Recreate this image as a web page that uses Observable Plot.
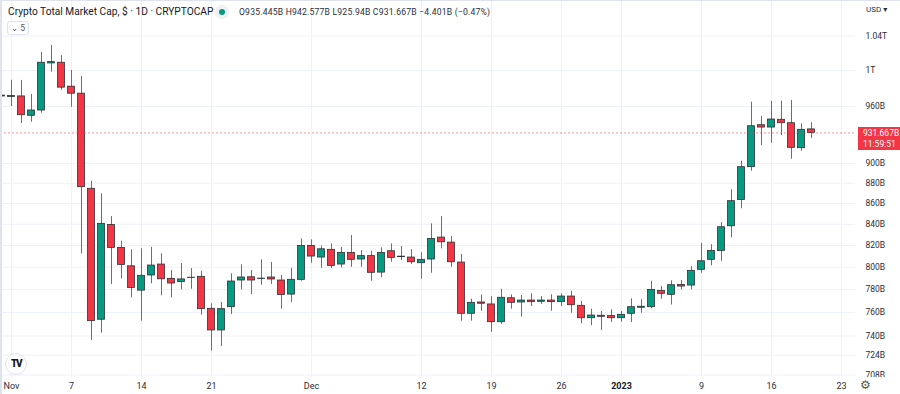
<!DOCTYPE html>
<html><head><meta charset="utf-8">
<script src="https://cdn.jsdelivr.net/npm/d3@7"></script>
<script src="https://cdn.jsdelivr.net/npm/@observablehq/plot@0.6"></script>
<style>
body{margin:0;background:#fff;font-family:Roboto,"DejaVu Sans",sans-serif;}
#wrap{position:relative;width:900px;height:394px;overflow:hidden;background:#fff;}
#wrap svg{position:absolute;left:0;top:0;}
.ov{position:absolute;white-space:nowrap;}
</style></head><body><div id="wrap"></div>
<script>
const dates = ["2022-10-31",
"2022-11-01","2022-11-02","2022-11-03","2022-11-04","2022-11-05","2022-11-06","2022-11-07","2022-11-08","2022-11-09","2022-11-10",
"2022-11-11","2022-11-12","2022-11-13","2022-11-14","2022-11-15","2022-11-16","2022-11-17","2022-11-18","2022-11-19","2022-11-20",
"2022-11-21","2022-11-22","2022-11-23","2022-11-24","2022-11-25","2022-11-26","2022-11-27","2022-11-28","2022-11-29","2022-11-30",
"2022-12-01","2022-12-02","2022-12-03","2022-12-04","2022-12-05","2022-12-06","2022-12-07","2022-12-08","2022-12-09","2022-12-10",
"2022-12-11","2022-12-12","2022-12-13","2022-12-14","2022-12-15","2022-12-16","2022-12-17","2022-12-18","2022-12-19","2022-12-20",
"2022-12-21","2022-12-22","2022-12-23","2022-12-24","2022-12-25","2022-12-26","2022-12-27","2022-12-28","2022-12-29","2022-12-30","2022-12-31",
"2023-01-01","2023-01-02","2023-01-03","2023-01-04","2023-01-05","2023-01-06","2023-01-07","2023-01-08","2023-01-09","2023-01-10",
"2023-01-11","2023-01-12","2023-01-13","2023-01-14","2023-01-15","2023-01-16","2023-01-17","2023-01-18","2023-01-19","2023-01-20"];
// values in billions USD
const open = [972,
970.5,971.1,950,955.7,1008.1,1008.9,981.9,974.1,874.5,753.8,
839.4,817.8,800.9,779.1,792.6,802.5,789.6,786.7,790.3,791.4,
763.2,744.7,764.6,788.1,791.0,789.4,790.8,788.1,775.6,788.7,
819.6,808.9,816,802.5,813.2,807.1,810.2,795.2,814.7,809.3,
808.9,803.7,807.1,827.4,822.7,804.3,758.9,768.7,767,751.7,
772.4,768.7,770.4,769.3,770.4,769,773.9,765.8,755.1,757.2,756.9,
755.1,758.9,764.1,764.6,778.9,775.4,784.2,783.6,797.7,806.8,
815,838.1,863.4,896.2,939.9,937.4,945.7,942,915.7,935.445];
const high = [975,
989,988.9,973.3,1020.8,1028.9,1017,1000,993.3,882,869.6,
847.4,824,816,816.9,818.3,812.3,797,803.4,798.8,796.4,
767.6,768.7,794.1,802.2,797,806.8,804.4,792.6,799.1,826.2,
825.3,819.6,821.5,818.3,829.3,815.3,814.7,817.8,821.5,819,
816.2,813.2,840.4,847.4,828.4,811.7,771.6,775.2,773.8,780.3,
775.4,774.8,776.3,773.9,775.4,776.3,778.5,769.6,762.9,760.9,762.3,
760.9,771.9,771.1,787.4,782.7,787.8,788.1,800.6,822.1,820.8,
841.6,873.5,902.3,964.8,949.2,965.6,965.9,966.7,941.4,942.577];
const low = [968,
960,941.7,943.1,952.8,998.1,977.8,959.2,812.3,736.3,742.4,
784.5,789.6,772.8,752.6,785.1,774.5,772.8,779.7,780.3,757.7,
727.4,731.3,758.3,779.7,775.6,783.9,784.5,762.9,768.7,787.5,
803.7,799.1,798.8,799.5,800,800,787.4,790.5,804.6,806.1,
802.5,789.2,794.6,816.9,800,752.6,752.6,761.1,743.2,749.8,
762.9,756,765.2,767,761.1,765.2,759.4,750.4,748.7,744.7,751.5,
751.7,751.5,759.4,763.2,771.6,766.5,779.7,779.7,794.6,801.3,
805.5,827.2,854.9,892.1,918.5,920.8,929,904.3,912.6,925.94];
const close = [971,
971.5,950.6,955.7,1008.9,1009.6,980.8,974.1,876.1,752.6,840.4,
817.8,802.2,781.5,792.3,801.6,789.2,785.4,789.1,790.6,762.9,
744.7,762.9,787.2,790.8,788.1,789.8,789.0,775.3,788.7,819.6,
809.8,816.5,801.3,813.2,806.8,810.2,795,813.2,808.6,809.7,
804.6,806.8,826.2,823,804.6,758.9,768.4,767.6,751.7,772.8,
768.4,770.4,769,770.4,769,773.9,766.3,755.1,757.4,756.3,755.1,
758,764.6,765,779.7,776.3,783.9,782.7,796.8,805.5,815,
837.2,862.3,896.2,938.8,937.4,946,942,916.1,935,931.667];

const yTicks = [1040,1000,960,900,880,860,840,820,800,780,760,740,724,708];
const yTickLabels = ["1.04T","1T","960B","900B","880B","860B","840B","820B","800B","780B","760B","740B","724B","708B"];
const xTicks = ["2022-11-01","2022-11-07","2022-11-14","2022-11-21","2022-12-01","2022-12-12","2022-12-19","2022-12-26","2023-01-01","2023-01-09","2023-01-16","2023-01-23"];
const xTickLabels = ["Nov","7","14","21","Dec","12","19","26","2023","9","16","23"];
const boldTick = "2023-01-01";

const UP = "#089981", DOWN = "#f23645";
const DAY = 864e5;
const toDate = s => new Date(s + "T00:00:00Z");
const data = dates.map((d, i) => ({date: toDate(d), o: open[i], h: high[i], l: low[i], c: close[i]}));
const xTickDates = xTicks.map(toDate);
const xLabelMap = new Map(xTicks.map((s, i) => [+toDate(s), xTickLabels[i]]));
const yLabelMap = new Map(yTicks.map((v, i) => [v, yTickLabels[i]]));
const last = data[data.length - 1];
const startRef = +toDate("2022-11-01");

const chart = Plot.plot({
  width: 900, height: 394,
  marginLeft: 0, marginRight: 45, marginTop: 0, marginBottom: 17,
  style: {fontFamily: "Roboto, 'DejaVu Sans', sans-serif", fontSize: "9px", color: "#2a2e39", background: "transparent"},
  x: {type: "utc", domain: [new Date(startRef - 1.1 * DAY), new Date(startRef + 84.4 * DAY)]},
  y: {type: "log", domain: [706, 1082.7]},
  marks: [
    Plot.gridX(xTickDates, {stroke: "#eef1f7", strokeOpacity: 1}),
    Plot.gridY(yTicks, {stroke: "#eef1f7", strokeOpacity: 1}),
    Plot.ruleX(data, {x: "date", y1: "l", y2: "h", stroke: "#6b6e78", strokeWidth: 1}),
    Plot.rect(data, {
      x1: d => new Date(+d.date - 0.35 * DAY),
      x2: d => new Date(+d.date + 0.35 * DAY),
      y1: "o", y2: "c",
      fill: d => d.c >= d.o ? UP : DOWN,
      stroke: "#2f3136", strokeWidth: 0.8
    }),
    Plot.ruleY([last.c], {stroke: DOWN, strokeOpacity: 0.55, strokeDasharray: "2,2"}),
    Plot.axisY(yTicks, {anchor: "right", tickSize: 0, tickPadding: 10, tickFormat: d => yLabelMap.get(d), fontSize: 8.5, fill: "#2a2e39"}),
    Plot.axisX(xTickDates.filter(d => +d !== +toDate(boldTick)), {anchor: "bottom", tickSize: 0, tickPadding: 5, tickFormat: d => xLabelMap.get(+d), fontSize: 9, fill: "#2a2e39"}),
    Plot.axisX([toDate(boldTick)], {anchor: "bottom", tickSize: 0, tickPadding: 5, tickFormat: d => xLabelMap.get(+d), fontSize: 9, fontWeight: "bold", fill: "#131722"})
  ]
});

const wrap = document.getElementById("wrap");
wrap.appendChild(chart);
const yC = chart.scale("y").apply(last.c);
const fmt = v => v.toFixed(3).replace(/\.?0+$/, "") + "B";
const chg = last.c - close[close.length - 2];

wrap.insertAdjacentHTML("beforeend", `
<div class="ov" style="left:0;top:0;width:900px;height:1px;background:#e0e3eb"></div>
<div class="ov" style="left:0;top:0;width:2px;height:394px;background:#dfe3ec"></div>
<div class="ov" style="left:8px;top:6px;font-size:10.2px;color:#131722;">Crypto Total Market Cap, $ · 1D · CRYPTOCAP</div>
<div class="ov" style="left:215px;top:5px;width:14px;height:14px;border-radius:7px;background:#eef0f3;"></div>
<div class="ov" style="left:219px;top:9px;width:6px;height:6px;border-radius:3px;background:${UP};"></div>
<div class="ov" style="left:239px;top:7px;font-size:8.6px;color:#2a2e39;letter-spacing:0.2px">O${fmt(last.o)} H${fmt(last.h)} L${fmt(last.l)} C${fmt(last.c)} ${chg < 0 ? "−" : "+"}4.401B (${chg < 0 ? "−" : "+"}0.47%)</div>
<div class="ov" style="left:7px;top:21px;width:20px;height:12px;border:1px solid #e0e3eb;border-radius:3px;font-size:8.5px;line-height:12px;color:#555;text-align:center;background:#fff">⌄ 5</div>
<div class="ov" style="left:856px;top:377px;width:44px;height:17px;background:#fff"></div>
<div class="ov" style="left:866px;top:5px;font-size:8px;color:#2a2e39;">USD ▾</div>
<div class="ov" style="left:858px;top:${yC - 5}px;width:42px;height:23px;background:${DOWN};color:#fff;font-size:8.5px;line-height:10.5px;padding-top:1px;text-align:left;padding-left:5px;box-sizing:border-box">${fmt(last.c)}<br>11:59:51</div>
<div class="ov" style="left:5px;top:353px;width:20px;height:20px;border-radius:11px;border:1px solid #e0e3eb;background:#fff;font-size:10px;font-weight:900;line-height:20px;text-align:center;color:#131722;letter-spacing:-1.5px">TV</div>
<div class="ov" style="left:860px;top:378px;font-size:12px;color:#555;">⚙</div>
`);
</script>
</body></html>
